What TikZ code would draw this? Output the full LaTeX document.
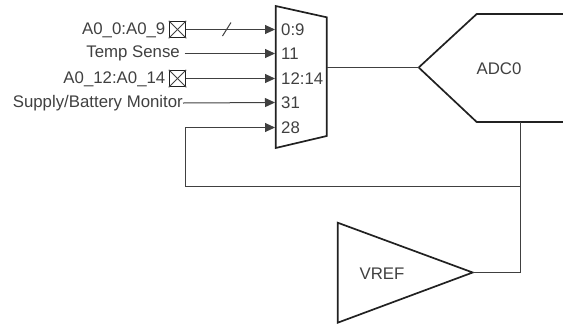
\documentclass[tikz,border=0pt]{standalone}
\usepackage{fontspec}
\setmainfont{Liberation Sans}
\usetikzlibrary{arrows.meta}
\definecolor{inkgray}{rgb}{0.13, 0.13, 0.13}
\definecolor{wiregray}{rgb}{0.25, 0.25, 0.25}
\tikzset{
	blockline/.style={draw=inkgray, line width=1.7pt, line join=miter},
	wire/.style={draw=wiregray, line width=1pt},
	inwire/.style={wire, -{Triangle[length=10pt, width=9pt]}},
	padbox/.style={draw=inkgray, line width=1pt, minimum size=16.5pt, inner sep=0pt},
	siglabel/.style={anchor=east, inner sep=0pt, text=wiregray, font=\fontsize{16.8}{18}\selectfont},
	portlabel/.style={anchor=west, inner sep=0pt, text=wiregray, font=\fontsize{16.8}{18}\selectfont},
	blocklabel/.style={inner sep=0pt, text=wiregray, font=\fontsize{16.8}{18}\selectfont}
}
\begin{document}
\begin{tikzpicture}[x=1pt, y=-1pt]
	\useasboundingbox (0,0) rectangle (563,325);
	% blocks
	\draw [blockline] (275.7,6) -- (326.7,17.3) -- (326.7,136) -- (275.7,148) -- cycle;
	\draw [blockline] (566,14) -- (476.7,14) -- (418.7,67.5) -- (476.7,122) -- (566,122);
	\draw [blockline] (337.7,222.7) -- (472.7,272.5) -- (337.7,322.7) -- cycle;
	\node [blocklabel] (adclabel) at (499,68.5) {ADC0};
	\node [blocklabel] (vreflabel) at (382,273.5) {VREF};
	% anchors on the blocks
	\coordinate (mux0) at (275,29.5);
	\coordinate (mux11) at (275,53.5);
	\coordinate (mux12) at (275,78.5);
	\coordinate (mux31) at (275,102.5);
	\coordinate (mux28) at (275,127.5);
	\coordinate (muxout) at (326.7,67.5);
	\coordinate (adcin) at (418.7,67.5);
	\coordinate (adcout) at (520.5,122);
	\coordinate (vrefout) at (472.7,272.5);
	\coordinate (vrefcorner) at (520.5,272.5);
	\coordinate (tee) at (520.5,186.5);
	\coordinate (backcorner) at (185.5,186.5);
	\coordinate (backtop) at (185.5,127.5);
	\coordinate (slashlow) at (222.5,36);
	\coordinate (slashhigh) at (231,22.5);
	\coordinate (tempstart) at (184.5,53.5);
	% input pads and labels
	\node [padbox] (pad0) at (177.5,29.5) {};
	\draw [wire] (pad0.north west) -- (pad0.south east);
	\draw [wire] (pad0.south west) -- (pad0.north east);
	\node [padbox] (pad12) at (177.5,78.5) {};
	\draw [wire] (pad12.north west) -- (pad12.south east);
	\draw [wire] (pad12.south west) -- (pad12.north east);
	\node [siglabel] (sig0) at (165.5,30) {A0\_0:A0\_9};
	\node [siglabel] (sig11) at (180,53) {Temp Sense};
	\node [siglabel] (sig12) at (165.5,79) {A0\_12:A0\_14};
	\node [siglabel] (sig31) at (183,103) {Supply/Battery Monitor};
	\node [portlabel] (port0) at (281,30) {0:9};
	\node [portlabel] (port11) at (281,54) {11};
	\node [portlabel] (port12) at (281,79) {12:14};
	\node [portlabel] (port31) at (281,103) {31};
	\node [portlabel] (port28) at (281,127.5) {28};
	% connectors
	\draw [inwire] (pad0.east) -- (mux0);
	\draw [wire] (slashlow) -- (slashhigh);
	\draw [inwire] (tempstart) -- (mux11);
	\draw [inwire] (pad12.east) -- (mux12);
	\draw [inwire] (sig31.east) -- (mux31);
	\draw [wire] (muxout) -- (adcin);
	\draw [wire] (adcout) -- (tee) -- (vrefcorner) -- (vrefout);
	\draw [inwire] (tee) -- (backcorner) -- (backtop) -- (mux28);
\end{tikzpicture}
\end{document}
